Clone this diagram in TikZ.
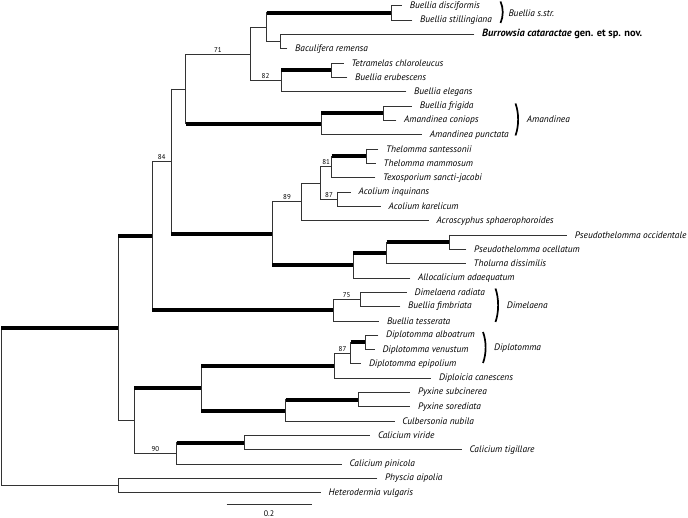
\documentclass[tikz,border=0pt]{standalone}
\usepackage{fontspec}
\setmainfont{PT Sans}
\newcommand\Y[1]{5.7+14.33*(#1)}
\newcommand\Br[3]{\draw[br] (#1) -- (#1 |- #2); \draw[#3] (#1 |- #2) -- (#2);}
\newcommand\BrS[4]{\draw[br] (#1) -- (#1 |- #2); \draw[#3] (#1 |- #2) -- node[sup] (s#2) {#4} (#2);}
\begin{document}
\begin{tikzpicture}[x=1pt,y=-1pt,
  br/.style={line width=0.9pt,draw=black!80,line cap=rect},
  tk/.style={line width=4pt,draw=black},
  tip/.style={anchor=west,inner sep=0pt,xshift=8pt,font=\fontsize{9.4}{11}\selectfont\itshape},
  sup/.style={above,inner sep=1.5pt,font=\fontsize{7}{8}\selectfont},
  clade/.style={line width=1.7pt,draw=black},
  cl/.style={anchor=west,inner sep=0pt,font=\fontsize{9.4}{11}\selectfont\itshape}]
\useasboundingbox (0,0) rectangle (688,518);
% internal nodes
\coordinate (root) at (1,{\Y{28.006}});
\coordinate (ing) at (118.3,{\Y{22.5117}});
\coordinate (out) at (118.3,{\Y{33.5}});
\coordinate (A) at (152.2,{\Y{16.0547}});
\coordinate (B) at (171.2,{\Y{10.8594}});
\coordinate (C) at (185.7,{\Y{5.8125}});
\coordinate (D) at (250,{\Y{3.375}});
\coordinate (E) at (266.7,{\Y{1.5}});
\coordinate (bs) at (391.7,{\Y{0.5}});
\coordinate (F) at (280,{\Y{2.5}});
\coordinate (G) at (281,{\Y{5.25}});
\coordinate (H) at (331.7,{\Y{4.5}});
\coordinate (Am) at (321,{\Y{8.25}});
\coordinate (I) at (383.3,{\Y{7.5}});
\coordinate (J) at (272.3,{\Y{15.90625}});
\coordinate (K) at (301.7,{\Y{13.6875}});
\coordinate (K2) at (320.7,{\Y{12.375}});
\coordinate (L) at (331.7,{\Y{11.25}});
\coordinate (Th) at (366,{\Y{10.5}});
\coordinate (Ac) at (337.3,{\Y{13.5}});
\coordinate (M) at (353.3,{\Y{18.125}});
\coordinate (N) at (386.7,{\Y{17.25}});
\coordinate (Ps) at (449.3,{\Y{16.5}});
\coordinate (Dm) at (333.3,{\Y{21.25}});
\coordinate (O) at (360,{\Y{20.5}});
\coordinate (W) at (134,{\Y{28.96875}});
\coordinate (T) at (201,{\Y{26.6875}});
\coordinate (R) at (334.3,{\Y{25.125}});
\coordinate (Q) at (350.7,{\Y{24.25}});
\coordinate (P) at (365,{\Y{23.5}});
\coordinate (S) at (285.7,{\Y{28.25}});
\coordinate (Px) at (358.3,{\Y{27.5}});
\coordinate (V) at (176.7,{\Y{31.25}});
\coordinate (U) at (244.3,{\Y{30.5}});
% tips
\coordinate (t0) at (401.7,{\Y{0}});
\coordinate (t1) at (412,{\Y{1}});
\coordinate (t2) at (474,{\Y{2}});
\coordinate (t3) at (287,{\Y{3}});
\coordinate (t4) at (343.3,{\Y{4}});
\coordinate (t5) at (347,{\Y{5}});
\coordinate (t6) at (406,{\Y{6}});
\coordinate (t7) at (411.7,{\Y{7}});
\coordinate (t8) at (396,{\Y{8}});
\coordinate (t9) at (421.7,{\Y{9}});
\coordinate (t10) at (378,{\Y{10}});
\coordinate (t11) at (375.5,{\Y{11}});
\coordinate (t12) at (375,{\Y{12}});
\coordinate (t13) at (350.5,{\Y{13}});
\coordinate (t14) at (380.5,{\Y{14}});
\coordinate (t15) at (428.3,{\Y{15}});
\coordinate (t16) at (566.7,{\Y{16}});
\coordinate (t17) at (466,{\Y{17}});
\coordinate (t18) at (465.5,{\Y{18}});
\coordinate (t19) at (410,{\Y{19}});
\coordinate (t20) at (406.5,{\Y{20}});
\coordinate (t21) at (400,{\Y{21}});
\coordinate (t22) at (378.8,{\Y{22}});
\coordinate (t23) at (378,{\Y{23}});
\coordinate (t24) at (374.3,{\Y{24}});
\coordinate (t25) at (360.8,{\Y{25}});
\coordinate (t26) at (430.8,{\Y{26}});
\coordinate (t27) at (409.8,{\Y{27}});
\coordinate (t28) at (409.8,{\Y{28}});
\coordinate (t29) at (394.2,{\Y{29}});
\coordinate (t30) at (369.8,{\Y{30}});
\coordinate (t31) at (461.5,{\Y{31}});
\coordinate (t32) at (341.5,{\Y{32}});
\coordinate (t33) at (377,{\Y{33}});
\coordinate (t34) at (320.5,{\Y{34}});
% branches
\Br{root}{ing}{tk} \Br{root}{out}{br}
\Br{ing}{A}{tk} \Br{ing}{W}{br}
\BrS{A}{B}{br}{84} \Br{A}{Dm}{tk}
\Br{B}{C}{br} \Br{B}{J}{tk}
\BrS{C}{D}{br}{71} \Br{C}{Am}{tk}
\Br{D}{E}{br} \BrS{D}{G}{br}{82}
\Br{E}{bs}{tk} \Br{E}{F}{br}
\Br{bs}{t0}{br} \Br{bs}{t1}{br}
\Br{F}{t2}{br} \Br{F}{t3}{br}
\Br{G}{H}{tk} \Br{G}{t6}{br}
\Br{H}{t4}{br} \Br{H}{t5}{br}
\Br{Am}{I}{tk} \Br{Am}{t9}{br}
\Br{I}{t7}{br} \Br{I}{t8}{br}
\BrS{J}{K}{br}{89} \Br{J}{M}{tk}
\Br{K}{K2}{br} \Br{K}{t15}{br}
\BrS{K2}{L}{br}{81} \BrS{K2}{Ac}{br}{87}
\Br{L}{Th}{tk} \Br{L}{t12}{br}
\Br{Th}{t10}{br} \Br{Th}{t11}{br}
\Br{Ac}{t13}{br} \Br{Ac}{t14}{br}
\Br{M}{N}{tk} \Br{M}{t19}{br}
\Br{N}{Ps}{tk} \Br{N}{t18}{br}
\Br{Ps}{t16}{br} \Br{Ps}{t17}{br}
\BrS{Dm}{O}{br}{75} \Br{Dm}{t22}{br}
\Br{O}{t20}{br} \Br{O}{t21}{br}
\Br{W}{T}{tk} \BrS{W}{V}{br}{90}
\Br{T}{R}{tk} \Br{T}{S}{tk}
\BrS{R}{Q}{br}{87} \Br{R}{t26}{br}
\Br{Q}{P}{tk} \Br{Q}{t25}{br}
\Br{P}{t23}{br} \Br{P}{t24}{br}
\Br{S}{Px}{tk} \Br{S}{t29}{br}
\Br{Px}{t27}{br} \Br{Px}{t28}{br}
\Br{V}{U}{tk} \Br{V}{t32}{br}
\Br{U}{t30}{br} \Br{U}{t31}{br}
\Br{out}{t33}{br} \Br{out}{t34}{br}
% tip labels
\node[tip] (n0) at (t0) {Buellia disciformis};
\node[tip] (n1) at (t1) {Buellia stillingiana};
\node[tip,font=\fontsize{10.4}{12}\selectfont\itshape] (n2) at (t2) {\bfseries Burrowsia cataractae {\upshape gen. et sp. nov.}};
\node[tip] (n3) at (t3) {Baculifera remensa};
\node[tip] (n4) at (t4) {Tetramelas chloroleucus};
\node[tip] (n5) at (t5) {Buellia erubescens};
\node[tip] (n6) at (t6) {Buellia elegans};
\node[tip] (n7) at (t7) {Buellia frigida};
\node[tip] (n8) at (t8) {Amandinea coniops};
\node[tip] (n9) at (t9) {Amandinea punctata};
\node[tip] (n10) at (t10) {Thelomma santessonii};
\node[tip] (n11) at (t11) {Thelomma mammosum};
\node[tip] (n12) at (t12) {Texosporium sancti-jacobi};
\node[tip] (n13) at (t13) {Acolium inquinans};
\node[tip] (n14) at (t14) {Acolium karelicum};
\node[tip] (n15) at (t15) {Acroscyphus sphaerophoroides};
\node[tip] (n16) at (t16) {Pseudothelomma occidentale};
\node[tip] (n17) at (t17) {Pseudothelomma ocellatum};
\node[tip] (n18) at (t18) {Tholurna dissimilis};
\node[tip] (n19) at (t19) {Allocalicium adaequatum};
\node[tip] (n20) at (t20) {Dimelaena radiata};
\node[tip] (n21) at (t21) {Buellia fimbriata};
\node[tip] (n22) at (t22) {Buellia tesserata};
\node[tip] (n23) at (t23) {Diplotomma alboatrum};
\node[tip] (n24) at (t24) {Diplotomma venustum};
\node[tip] (n25) at (t25) {Diplotomma epipolium};
\node[tip] (n26) at (t26) {Diploicia canescens};
\node[tip] (n27) at (t27) {Pyxine subcinerea};
\node[tip] (n28) at (t28) {Pyxine sorediata};
\node[tip] (n29) at (t29) {Culbersonia nubila};
\node[tip] (n30) at (t30) {Calicium viride};
\node[tip] (n31) at (t31) {Calicium tigillare};
\node[tip] (n32) at (t32) {Calicium pinicola};
\node[tip] (n33) at (t33) {Physcia aipolia};
\node[tip] (n34) at (t34) {Heterodermia vulgaris};
% clade brackets
\coordinate (b1a) at (500.5,1.5); \coordinate (b1b) at (500.5,23);
\draw[clade] (b1a) .. controls (503.5,8) and (503.5,16.5) .. (b1b);
\node[cl] (c1) at (508.3,12.8) {Buellia s.str.};
\coordinate (b2a) at (515.5,103.5); \coordinate (b2b) at (515.5,135.5);
\draw[clade] (b2a) .. controls (519,113) and (519,126) .. (b2b);
\node[cl] (c2) at (526.7,119.6) {Amandinea};
\coordinate (b3a) at (495.5,288.5); \coordinate (b3b) at (495.5,322);
\draw[clade] (b3a) .. controls (499,298.5) and (499,312) .. (b3b);
\node[cl] (c3) at (506.7,305) {Dimelaena};
\coordinate (b4a) at (483,332); \coordinate (b4b) at (483,363);
\draw[clade] (b4a) .. controls (486.5,341.5) and (486.5,353.5) .. (b4b);
\node[cl] (c4) at (494,348.6) {Diplotomma};
% scale bar
\coordinate (sb1) at (226.7,504); \coordinate (sb2) at (311.7,504);
\draw[br,line cap=butt] (sb1) -- (sb2);
\node[font=\fontsize{8}{9}\selectfont,inner sep=0pt,anchor=base] (sbl) at (269,516.5) {0.2};
\end{tikzpicture}
\end{document}
